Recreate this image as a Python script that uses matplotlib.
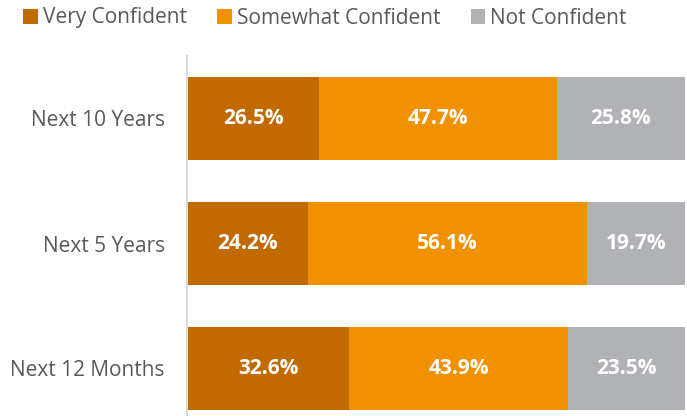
import matplotlib.pyplot as plt
import numpy as np

plt.rcParams['font.family'] = ['Open Sans', 'DejaVu Sans']

periods = ['Next 12 Months', 'Next 5 Years', 'Next 10 Years']
very_confident = [32.6, 24.2, 26.5]
somewhat_confident = [43.9, 56.1, 47.7]
not_confident = [23.5, 19.7, 25.8]

series = [
    ('Very Confident', very_confident, '#C06A00'),
    ('Somewhat Confident', somewhat_confident, '#F29100'),
    ('Not Confident', not_confident, '#B1B2B6'),
]

fig = plt.figure(figsize=(6.87, 4.16), dpi=100)
ax = fig.add_axes([187 / 687, 0, 498 / 687, 1 - 56 / 416])

y = np.arange(len(periods))
left = np.zeros(len(periods))
for name, vals, color in series:
    vals = np.array(vals)
    ax.barh(y, vals, left=left, height=0.664, color=color, label=name)
    for yi, l, v in zip(y, left, vals):
        ax.text(l + v / 2, yi, f'{v:.1f}%', ha='center', va='center',
                color='white', fontsize=15, fontweight='bold')
    left += vals

ax.set_xlim(0, 100)
ax.set_ylim(-0.38, 2.5)
ax.set_yticks(y)
ax.set_yticklabels(periods, fontsize=15, color='#595959')
ax.tick_params(axis='y', length=0, pad=16)
ax.set_xticks([])
for s in ['top', 'right', 'bottom']:
    ax.spines[s].set_visible(False)
ax.spines['left'].set_color('#D9D9D9')
ax.spines['left'].set_linewidth(1.5)

fig.legend(loc='center left', bbox_to_anchor=(23 / 687, 1 - 18 / 416), ncol=3,
           frameon=False, fontsize=15, handlelength=0.7, handleheight=0.7,
           handletextpad=0.25, columnspacing=1.45, borderpad=0, borderaxespad=0,
           labelcolor='#595959')

plt.savefig('out.png', dpi=100)
